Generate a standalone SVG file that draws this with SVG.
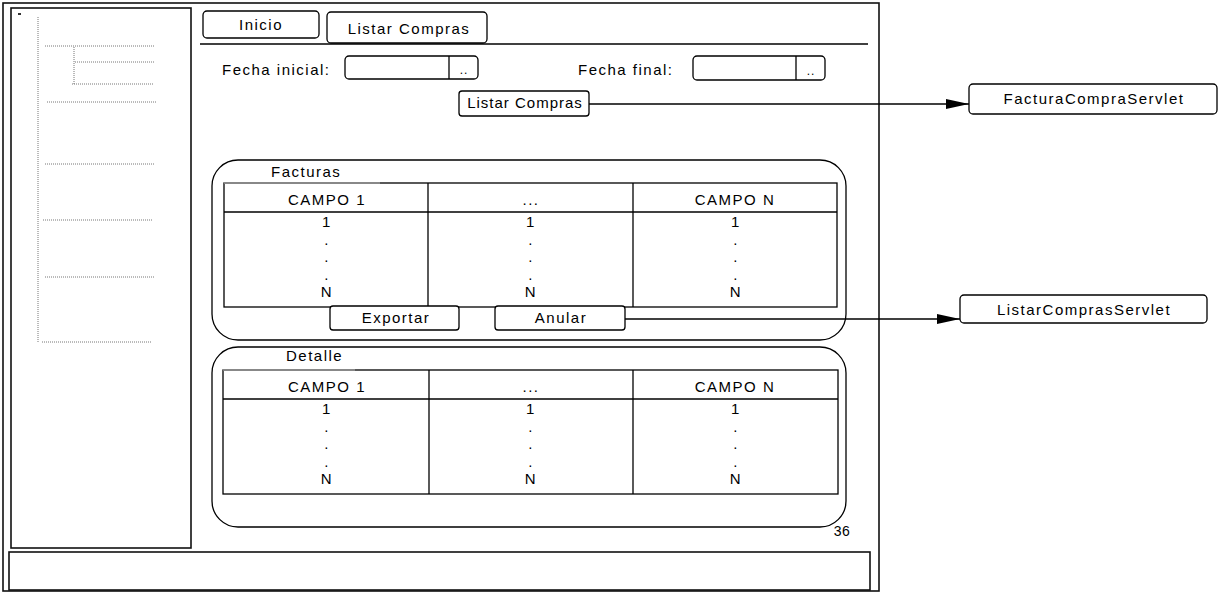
<svg xmlns="http://www.w3.org/2000/svg" width="1220" height="592" viewBox="0 0 1220 592">
<style>
text{font-family:"Liberation Sans",Arial,sans-serif;font-size:15px;letter-spacing:1.5px;fill:#000}
.c{text-anchor:middle}
.ln{fill:none;stroke:#000;stroke-width:1.3}
.box{fill:#fff;stroke:#000;stroke-width:1.3}
.fr{fill:none;stroke:#111;stroke-width:1.6}
.dot{fill:none;stroke:#777;stroke-width:1;stroke-dasharray:1 1}
.grp{fill:none;stroke:#000;stroke-width:1.3}
.gray{stroke:#999;stroke-width:1.6}
</style>
<defs>
<marker id="arr" markerUnits="userSpaceOnUse" markerWidth="24" markerHeight="12" refX="23" refY="6" orient="auto">
<path d="M0,1 L23,6 L0,11 Z" fill="#000"/>
</marker>
</defs>
<rect width="1220" height="592" fill="#fff"/>

<g id="frame">
<rect class="fr" x="3" y="3" width="876" height="588"/>
<rect class="fr" x="11" y="8" width="180" height="540"/>
<rect class="fr" x="9" y="552" width="861" height="38"/>
<rect x="18" y="13" width="3" height="2" fill="#333"/>
<line class="ln" x1="200" y1="44" x2="868" y2="44"/>
<text x="842" y="536" class="c" style="letter-spacing:0.5px;font-size:14px">36</text>
</g>

<g id="tree">
<line class="dot" x1="38" y1="17" x2="38" y2="342"/>
<line class="dot" x1="45" y1="46" x2="155" y2="46"/>
<line class="dot" x1="74" y1="47" x2="74" y2="84"/>
<line class="dot" x1="75" y1="62" x2="155" y2="62"/>
<line class="dot" x1="72" y1="84" x2="153" y2="84"/>
<line class="dot" x1="47" y1="102" x2="157" y2="102"/>
<line class="dot" x1="45" y1="164" x2="155" y2="164"/>
<line class="dot" x1="43" y1="220" x2="153" y2="220"/>
<line class="dot" x1="45" y1="277" x2="155" y2="277"/>
<line class="dot" x1="42" y1="342" x2="151" y2="342"/>
</g>

<g id="tab-inicio">
<rect class="box" x="203" y="11" width="116" height="27" rx="4"/>
<text x="261" y="30" class="c">Inicio</text>
</g>
<g id="tab-listar">
<rect class="box" x="327" y="12" width="160" height="31" rx="4"/>
<text x="409" y="34" class="c">Listar Compras</text>
</g>

<g id="fecha-inicial">
<text x="222" y="75">Fecha inicial:</text>
<rect class="box" x="345" y="56" width="133" height="23" rx="4"/>
<line class="ln" x1="449" y1="56" x2="449" y2="79"/>
<text x="464" y="74" class="c" style="font-size:12px;letter-spacing:1px">..</text>
</g>

<g id="fecha-final">
<text x="578" y="75">Fecha final:</text>
<rect class="box" x="693" y="56" width="132" height="24" rx="4"/>
<line class="ln" x1="796" y1="56" x2="796" y2="80"/>
<text x="811" y="75" class="c" style="font-size:12px;letter-spacing:1px">..</text>
</g>

<g id="btn-listar">
<rect class="box" x="459" y="91" width="130" height="25" rx="3"/>
<text x="525" y="108" class="c" style="letter-spacing:1px">Listar Compras</text>
</g>

<g id="factura-servlet">
<rect class="box" x="969" y="84" width="248" height="30" rx="4"/>
<text x="1094" y="104" class="c">FacturaCompraServlet</text>
</g>

<g id="listar-servlet">
<rect class="box" x="960" y="295" width="247" height="28" rx="4"/>
<text x="1084" y="315" class="c">ListarComprasServlet</text>
</g>

<g id="facturas">
<rect class="grp" x="212" y="160" width="634" height="180" rx="26"/>
<text x="271" y="177">Facturas</text>
<rect class="ln" x="224" y="183" width="613" height="124"/>
<line class="ln" x1="224" y1="212" x2="837" y2="212"/>
<line class="ln" x1="428" y1="183" x2="428" y2="307"/>
<line class="ln" x1="633" y1="183" x2="633" y2="307"/>
<line class="gray" x1="224" y1="183" x2="380" y2="183"/>
<text x="327" y="205" class="c">CAMPO 1</text>
<text x="531" y="205" class="c">...</text>
<text x="735" y="205" class="c">CAMPO N</text>
<text class="c" y="227"><tspan x="327">1</tspan><tspan x="327" dy="17.5">.</tspan><tspan x="327" dy="17.5">.</tspan><tspan x="327" dy="17.5">.</tspan><tspan x="327" dy="17.5">N</tspan></text>
<text class="c" y="227"><tspan x="531">1</tspan><tspan x="531" dy="17.5">.</tspan><tspan x="531" dy="17.5">.</tspan><tspan x="531" dy="17.5">.</tspan><tspan x="531" dy="17.5">N</tspan></text>
<text class="c" y="227"><tspan x="736">1</tspan><tspan x="736" dy="17.5">.</tspan><tspan x="736" dy="17.5">.</tspan><tspan x="736" dy="17.5">.</tspan><tspan x="736" dy="17.5">N</tspan></text>
</g>

<g id="btn-exportar">
<rect class="box" x="330" y="306" width="129" height="24" rx="3"/>
<text x="396" y="323" class="c">Exportar</text>
</g>
<g id="btn-anular">
<rect class="box" x="495" y="306" width="130" height="24" rx="3"/>
<text x="561" y="323" class="c">Anular</text>
</g>

<g id="detalle">
<rect class="grp" x="212" y="347" width="634" height="180" rx="26"/>
<text x="286" y="361">Detalle</text>
<rect class="ln" x="223" y="370" width="615" height="124"/>
<line class="ln" x1="223" y1="399" x2="838" y2="399"/>
<line class="ln" x1="429" y1="370" x2="429" y2="494"/>
<line class="ln" x1="633" y1="370" x2="633" y2="494"/>
<line class="gray" x1="223" y1="370" x2="355" y2="370"/>
<text x="327" y="392" class="c">CAMPO 1</text>
<text x="531" y="392" class="c">...</text>
<text x="735" y="392" class="c">CAMPO N</text>
<text class="c" y="414"><tspan x="327">1</tspan><tspan x="327" dy="17.5">.</tspan><tspan x="327" dy="17.5">.</tspan><tspan x="327" dy="17.5">.</tspan><tspan x="327" dy="17.5">N</tspan></text>
<text class="c" y="414"><tspan x="531">1</tspan><tspan x="531" dy="17.5">.</tspan><tspan x="531" dy="17.5">.</tspan><tspan x="531" dy="17.5">.</tspan><tspan x="531" dy="17.5">N</tspan></text>
<text class="c" y="414"><tspan x="736">1</tspan><tspan x="736" dy="17.5">.</tspan><tspan x="736" dy="17.5">.</tspan><tspan x="736" dy="17.5">.</tspan><tspan x="736" dy="17.5">N</tspan></text>
</g>

<g id="connectors">
<line class="ln" x1="589" y1="104" x2="969" y2="104" marker-end="url(#arr)"/>
<line class="ln" x1="625" y1="319" x2="960" y2="319" marker-end="url(#arr)"/>
</g>
</svg>
